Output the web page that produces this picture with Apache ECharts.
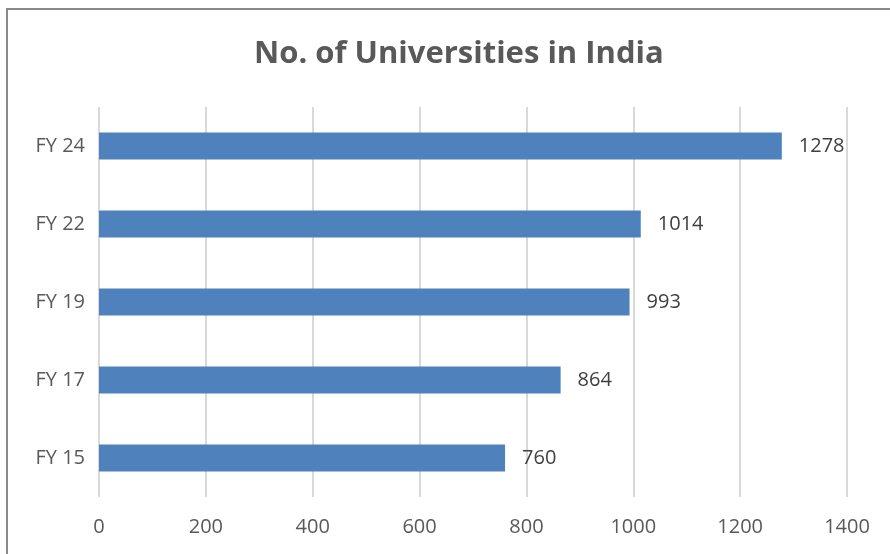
<!DOCTYPE html>
<html><head><meta charset="utf-8">
<script src="https://cdn.jsdelivr.net/npm/echarts@6/dist/echarts.min.js"></script>
<style>html,body{margin:0;padding:0;background:#fff}#c{width:890px;height:554px}</style>
</head><body><div id="c"></div>
<script>
const categories = ['FY 15','FY 17','FY 19','FY 22','FY 24'];
const values = [760, 864, 993, 1014, 1278];
const chart = echarts.init(document.getElementById('c'));
chart.setOption({
  animation:false,
  backgroundColor:'#fff',
  title:{text:'No. of Universities in India',left:249,top:34,textStyle:{fontFamily:'Open Sans',fontWeight:'bold',fontSize:31,color:'#595959'}},
  graphic:[{type:'rect',shape:{x:7,y:9,width:1000,height:1000},style:{fill:'none',stroke:'#8a8a8a',lineWidth:2}}],
  grid:{left:99,right:43,top:107,bottom:57,containLabel:false},
  xAxis:{type:'value',min:0,max:1400,interval:200,
    axisLine:{show:false},axisTick:{show:false},
    splitLine:{lineStyle:{color:'#d9d9d9',width:2}},
    axisLabel:{color:'#595959',fontFamily:'Open Sans',fontSize:20,margin:20,formatter:v=>String(v)}},
  yAxis:{type:'category',data:categories,
    axisLine:{show:false},axisTick:{show:false},
    axisLabel:{color:'#595959',fontFamily:'Open Sans',fontSize:20,margin:14}},
  series:[{type:'bar',data:values,barWidth:27,itemStyle:{color:'#4F81BD'},
    label:{show:true,position:'right',distance:17,color:'#404040',fontFamily:'Open Sans',fontSize:20}}]
});
</script></body></html>
